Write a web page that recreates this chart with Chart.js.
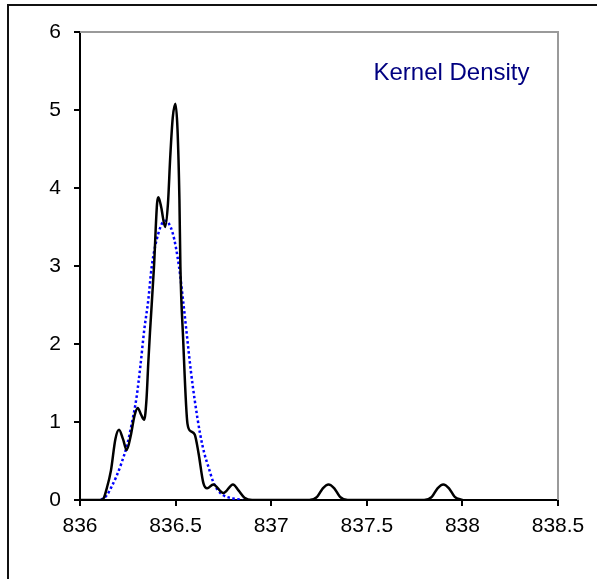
<!DOCTYPE html>
<html><head><meta charset="utf-8">
<script src="https://cdn.jsdelivr.net/npm/chart.js@4/dist/chart.umd.min.js"></script>
<style>
html,body{margin:0;padding:0;background:#fff;overflow:hidden;width:597px;height:579px}
#frame{position:absolute;left:7px;top:4px;width:700px;height:700px;border:2px solid #111;box-sizing:border-box}
#wrap{position:absolute;left:0;top:0;width:597px;height:579px}
</style></head><body>
<div id="frame"></div>
<div id="wrap"><canvas id="c" width="597" height="579"></canvas></div>
<script>
// Kernel density (black solid)
const kdeX = [836.00, 836.10, 836.12, 836.14, 836.162, 836.185, 836.204, 836.225, 836.244, 836.265, 836.285, 836.302, 836.32, 836.336, 836.348, 836.357, 836.366, 836.387, 836.403, 836.41, 836.425, 836.445, 836.46, 836.472, 836.485, 836.499, 836.51, 836.52, 836.525, 836.539, 836.562, 836.58, 836.60, 836.62, 836.645, 836.665, 836.697, 836.75, 836.80, 836.83, 836.86, 836.90, 837.20, 837.24, 837.27, 837.30, 837.33, 837.36, 837.40, 837.80, 837.84, 837.87, 837.90, 837.93, 837.96, 838.00];
const kdeY = [0, 0, 0.01, 0.15, 0.38, 0.78, 0.90, 0.78, 0.64, 0.82, 1.08, 1.18, 1.09, 1.03, 1.30, 1.75, 2.15, 2.99, 3.80, 3.88, 3.75, 3.50, 3.80, 4.40, 4.90, 5.08, 4.75, 3.85, 3.00, 2.09, 0.98, 0.88, 0.84, 0.60, 0.22, 0.15, 0.20, 0.09, 0.20, 0.12, 0.03, 0, 0, 0.04, 0.15, 0.20, 0.15, 0.04, 0, 0, 0.04, 0.15, 0.20, 0.15, 0.04, 0];
// Normal fit (blue dotted)
const normX = [836.11, 836.14, 836.165, 836.19, 836.215, 836.248, 836.27, 836.296, 836.315, 836.336, 836.357, 836.375, 836.41, 836.445, 836.485, 836.518, 836.539, 836.56, 836.58, 836.60, 836.628, 836.65, 836.671, 836.697, 836.72, 836.75, 836.80, 836.85];
const normY = [0, 0.06, 0.17, 0.30, 0.46, 0.72, 0.97, 1.32, 1.70, 2.18, 2.56, 2.99, 3.42, 3.58, 3.42, 2.99, 2.56, 2.09, 1.65, 1.28, 0.85, 0.60, 0.43, 0.23, 0.13, 0.06, 0.02, 0];
const xTicks = [836, 836.5, 837, 837.5, 838, 838.5];
const yTicks = [0, 1, 2, 3, 4, 5, 6];
const chartTitle = "Kernel Density";

const toPts = (xs, ys) => xs.map((x, i) => ({x: x, y: ys[i]}));
const FONT = {family: "'Liberation Sans', Arial, sans-serif", size: 21};

const framePlugin = {
  id: 'framePlugin',
  beforeDatasetsDraw(chart) {
    const {ctx, chartArea: a} = chart;
    ctx.save();
    ctx.strokeStyle = '#9a9a9a';
    ctx.lineWidth = 2;
    ctx.beginPath();
    ctx.moveTo(a.left, a.top);
    ctx.lineTo(a.right, a.top);
    ctx.lineTo(a.right, a.bottom);
    ctx.stroke();
    ctx.restore();
  },
  afterDraw(chart) {
    const {ctx} = chart;
    ctx.save();
    ctx.fillStyle = '#000080';
    ctx.font = "24px 'Liberation Sans', Arial, sans-serif";
    ctx.textAlign = 'center';
    ctx.textBaseline = 'alphabetic';
    ctx.fillText(chartTitle, 451.5, 80);
    ctx.restore();
  }
};

new Chart(document.getElementById('c'), {
  type: 'line',
  data: {
    datasets: [
      {label: 'Kernel', data: toPts(kdeX, kdeY), borderColor: '#000', borderWidth: 2.5, pointRadius: 0, cubicInterpolationMode: 'monotone', fill: false},
      {label: 'Normal', data: toPts(normX, normY), borderColor: '#0000ff', borderWidth: 2.5, borderDash: [2.5, 2.5], pointRadius: 0, cubicInterpolationMode: 'monotone', fill: false}
    ]
  },
  options: {
    responsive: false,
    devicePixelRatio: 1,
    animation: false,
    layout: {padding: {left: 0, top: 32, right: 39, bottom: 0}},
    plugins: {legend: {display: false}, tooltip: {enabled: false}, title: {display: false}},
    scales: {
      x: {
        type: 'linear', min: 836, max: 838.5,
        afterBuildTicks: s => { s.ticks = xTicks.map(v => ({value: v})); },
        afterFit: s => { s.height = 79; },
        ticks: {color: '#000', font: FONT, padding: 8, maxRotation: 0, autoSkip: false, callback: v => String(v)},
        grid: {display: true, drawOnChartArea: false, drawTicks: true, tickLength: 6, tickColor: '#000', lineWidth: 2},
        border: {display: true, color: '#000', width: 2}
      },
      y: {
        type: 'linear', min: 0, max: 6,
        afterBuildTicks: s => { s.ticks = yTicks.map(v => ({value: v})); },
        afterFit: s => { s.width = 80; },
        ticks: {color: '#000', font: FONT, padding: 13, callback: v => String(v)},
        grid: {display: true, drawOnChartArea: false, drawTicks: true, tickLength: 6, tickColor: '#000', lineWidth: 2},
        border: {display: true, color: '#000', width: 2}
      }
    }
  },
  plugins: [framePlugin]
});
</script>
</body></html>
